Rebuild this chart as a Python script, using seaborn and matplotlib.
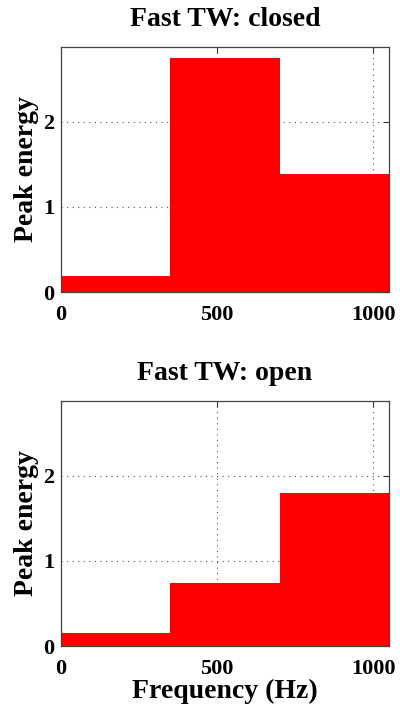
import matplotlib
matplotlib.use("Agg")
import matplotlib.pyplot as plt
import seaborn as sns
import pandas as pd

# Frequency bands (Hz) and peak energy per band
band_edges = [0, 350, 700, 1050]
band_centers = [175, 525, 875]
closed_energy = [0.19, 2.745, 1.39]
open_energy = [0.15, 0.735, 1.80]
panel_titles = ["Fast TW: closed", "Fast TW: open"]
x_ticks = [0, 500, 1000]
y_ticks = [0, 1, 2]

sns.set_style("white")
plt.rcParams["font.family"] = ["Liberation Serif", "DejaVu Serif"]
plt.rcParams["font.weight"] = "bold"
plt.rcParams["text.color"] = "black"
plt.rcParams["axes.labelcolor"] = "black"
plt.rcParams["xtick.color"] = "black"
plt.rcParams["ytick.color"] = "black"

fig = plt.figure(figsize=(4.0, 7.06), dpi=100)
ax_top = fig.add_axes([61 / 400, 414 / 706, 328 / 400, 245 / 706])
ax_bot = fig.add_axes([61 / 400, 60 / 706, 328 / 400, 245 / 706])

for ax, vals, title in zip([ax_top, ax_bot], [closed_energy, open_energy], panel_titles):
    df = pd.DataFrame({"freq": band_centers, "energy": vals})
    ax.set_axisbelow(True)
    ax.grid(True, linestyle=(0, (1, 4)), color="#555555", linewidth=0.8)
    sns.histplot(data=df, x="freq", weights="energy", bins=band_edges,
                 color="#ff0000", alpha=1.0, linewidth=0, ax=ax)
    ax.set_xlim(0, 1050)
    ax.set_ylim(0, 2.88)
    ax.set_xticks(x_ticks)
    ax.set_yticks(y_ticks)
    ax.tick_params(direction="in", length=4, width=0.8, color="#333333",
                   labelcolor="black", top=True, right=True, labelsize=16)
    ax.tick_params(axis="x", pad=9)
    ax.tick_params(axis="y", pad=5)
    for lbl in ax.get_xticklabels() + ax.get_yticklabels():
        lbl.set_fontweight("bold")
    for sp in ax.spines.values():
        sp.set_visible(True)
        sp.set_color("#444444")
        sp.set_linewidth(0.9)
    ax.set_title(title, fontsize=20, fontweight="bold", pad=15, color="black")
    ax.set_ylabel("Peak energy", fontsize=20, fontweight="bold", labelpad=3, color="black")
    ax.set_xlabel("")

ax_bot.set_xlabel("Frequency (Hz)", fontsize=20, fontweight="bold", labelpad=0, color="black")

fig.savefig("out.png", dpi=100)
